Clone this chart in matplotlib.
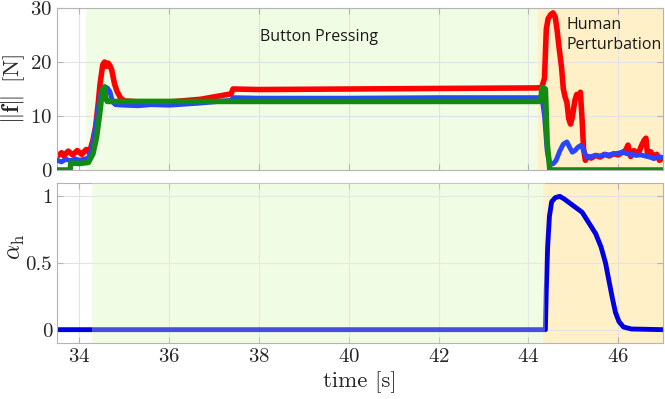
import numpy as np
import matplotlib
matplotlib.use('Agg')
import matplotlib.pyplot as plt

plt.rcParams['font.family'] = 'serif'
plt.rcParams['font.serif'] = ['cmr10']
plt.rcParams['mathtext.fontset'] = 'cm'
plt.rcParams['axes.formatter.use_mathtext'] = True

# 力 ||f|| (红)
t_red = [33.5, 33.6, 33.65, 33.75, 33.85, 33.95, 34.05, 34.15, 34.22, 34.3, 34.36, 34.42,
         34.46, 34.52, 34.56, 34.6, 34.64, 34.68, 34.72, 34.78, 34.84, 34.92, 35.0, 35.5,
         36.0, 36.7, 37.38, 37.42, 38.0, 40.0, 42.0, 44.2, 44.3, 44.36, 44.4, 44.44, 44.5,
         44.55, 44.6, 44.64, 44.68, 44.74, 44.78, 44.82, 44.86, 44.9, 44.94, 44.98, 45.04,
         45.08, 45.12, 45.16, 45.2, 45.23, 45.27, 45.32, 45.4, 45.5, 45.6, 45.7, 45.8, 45.9,
         46.0, 46.1, 46.16, 46.22, 46.28, 46.35, 46.45, 46.52, 46.58, 46.62, 46.66, 46.72,
         46.8, 46.86, 46.92, 47.0]
f_red = [2.5, 3.2, 2.6, 3.5, 2.8, 3.6, 2.9, 3.8, 3.2, 5.5, 8.0, 12.5,
         16.0, 19.5, 20.0, 19.2, 19.8, 19.3, 18.5, 16.0, 14.5, 13.3, 12.8, 12.5,
         12.6, 13.1, 14.1, 15.0, 14.9, 15.0, 15.1, 15.2, 15.3, 17.0, 26.0, 28.0, 28.8,
         29.1, 28.3, 26.0, 23.0, 19.0, 15.0, 13.5, 12.5, 9.5, 8.5, 9.8, 13.0,
         14.0, 13.5, 14.4, 9.0, 4.0, 1.8, 2.5, 2.2, 2.7, 2.4, 2.9, 2.6, 3.0,
         2.8, 3.3, 3.5, 4.6, 2.5, 3.6, 3.0, 4.5, 5.5, 5.9, 2.6, 3.4,
         2.4, 2.9, 1.8, 2.2]

# 蓝
t_blue = [33.5, 33.6, 33.7, 33.8, 33.9, 34.0, 34.1, 34.2, 34.28, 34.36, 34.44, 34.5,
          34.56, 34.62, 34.68, 34.74, 34.8, 35.0, 35.3, 35.6, 36.0, 36.7, 37.38, 37.42,
          38.0, 40.0, 42.0, 44.25, 44.32, 44.36, 44.42, 44.48, 44.56, 44.62, 44.7, 44.78,
          44.86, 44.92, 44.98, 45.04, 45.1, 45.18, 45.24, 45.3, 45.4, 45.5, 45.6, 45.7,
          45.8, 45.9, 46.0, 46.1, 46.2, 46.3, 46.4, 46.5, 46.6, 46.7, 46.8, 46.9, 47.0]
f_blue = [1.8, 1.5, 2.0, 1.7, 2.1, 1.8, 2.0, 2.2, 4.0, 8.0, 12.5, 15.0,
          15.4, 15.2, 14.5, 12.6, 12.1, 12.0, 11.9, 12.1, 12.0, 12.4, 12.9, 13.4,
          13.3, 13.3, 13.4, 13.4, 12.5, 10.0, 3.5, 1.0, 1.2, 1.8, 3.5, 4.8,
          5.2, 4.2, 3.3, 3.6, 4.2, 4.6, 3.4, 2.4, 2.5, 2.7, 2.6, 2.9,
          2.8, 3.0, 3.1, 3.3, 3.0, 2.9, 2.7, 2.8, 2.6, 2.4, 2.1, 2.5, 2.3]

# 绿
t_green = [33.5, 33.79, 33.81, 34.0, 34.2, 34.3, 34.38, 34.46, 34.51, 34.56, 34.59, 34.62,
           44.28, 44.3, 44.38, 44.42, 44.48, 47.0]
f_green = [0, 0, 1.3, 1.2, 1.4, 3.0, 6.0, 11.0, 14.8, 15.4, 13.2, 12.7,
           12.7, 15.3, 15.0, 5.0, 0, 0]

# alpha_h
t_alpha = [33.5, 44.38, 44.4, 44.43, 44.47, 44.52, 44.6, 44.7, 44.8, 45.0, 45.2, 45.35,
           45.5, 45.62, 45.72, 45.8, 45.87, 45.94, 46.02, 46.12, 46.3, 47.0]
alpha_h = [0, 0, 0.3, 0.62, 0.85, 0.96, 0.99, 1.0, 0.98, 0.93, 0.88, 0.8,
           0.72, 0.62, 0.5, 0.36, 0.24, 0.13, 0.06, 0.02, 0.005, 0]

# 阶段
phase_top = [34.15, 44.22, 47.0]
phase_bot = [34.27, 44.33, 47.0]

green_bg = '#f1fce4'
orange_bg = '#fff0c8'
frame = '#b4b4b4'

fig = plt.figure(figsize=(6.65, 3.99), dpi=100)
ax1 = fig.add_axes([57/665, 1 - 170/399, 606/665, 162/399])
ax2 = fig.add_axes([57/665, 1 - 343/399, 606/665, 160/399])

for ax, ph in [(ax1, phase_top), (ax2, phase_bot)]:
    ax.axvspan(ph[0], ph[1], color=green_bg, zorder=0, lw=0)
    ax.axvspan(ph[1], ph[2], color=orange_bg, zorder=0, lw=0)
    ax.set_axisbelow(True)
    ax.grid(True, color='#e2e2e2', lw=0.8)
    ax.set_xlim(33.5, 47)
    ax.set_xticks([34, 36, 38, 40, 42, 44, 46])
    ax.tick_params(direction='in', top=True, right=True, length=4, color=frame,
                   labelsize=15, labelcolor='#262626')
    for s in ax.spines.values():
        s.set_color(frame)

ax1.plot(t_red, f_red, color='#ff0000', lw=4, solid_joinstyle='round', zorder=2)
ax1.plot(t_blue, f_blue, color='#2846ff', lw=3.5, solid_joinstyle='round', zorder=3)
ax1.plot(t_green, f_green, color='#138a13', lw=4, solid_joinstyle='round', zorder=4)
ax1.set_ylim(0, 30)
ax1.set_yticks([0, 10, 20, 30])
ax1.set_xticklabels([])
ax1.set_ylabel(r'$\|\mathbf{f}\|\;\;[\mathrm{N}]$', fontsize=16.5, color='#262626', labelpad=2)

# 文字位置 (像素, 从左上角)
ax1.text(319, 399 - 37, 'Button Pressing', transform=None, fontsize=11.5, family='Open Sans',
         color='#1a1a1a', ha='center', va='center')
ax1.text(567, 399 - 35, 'Human\nPerturbation', transform=None, fontsize=11.5, family='Open Sans',
         color='#1a1a1a', ha='left', va='center', linespacing=1.3)

ax2.plot(t_alpha, alpha_h, color='#0000e0', lw=3.5, solid_capstyle='butt',
         solid_joinstyle='round', zorder=2)
# 绿色阶段覆盖在线上
ax2.axvspan(phase_bot[0], phase_bot[1] + 0.04, color=green_bg, alpha=0.3, zorder=3, lw=0)
ax2.set_ylim(-0.1, 1.1)
ax2.set_yticks([0, 0.5, 1])
ax2.set_yticklabels(['0', '0.5', '1'])
ax2.set_ylabel(r'$\alpha_\mathrm{h}$', fontsize=17, color='#262626', labelpad=2)
ax2.yaxis.set_label_coords(-0.05, 0.6)
ax2.set_xlabel('time [s]', fontsize=16.5, color='#262626', labelpad=4)

fig.savefig('out.png', dpi=100)
